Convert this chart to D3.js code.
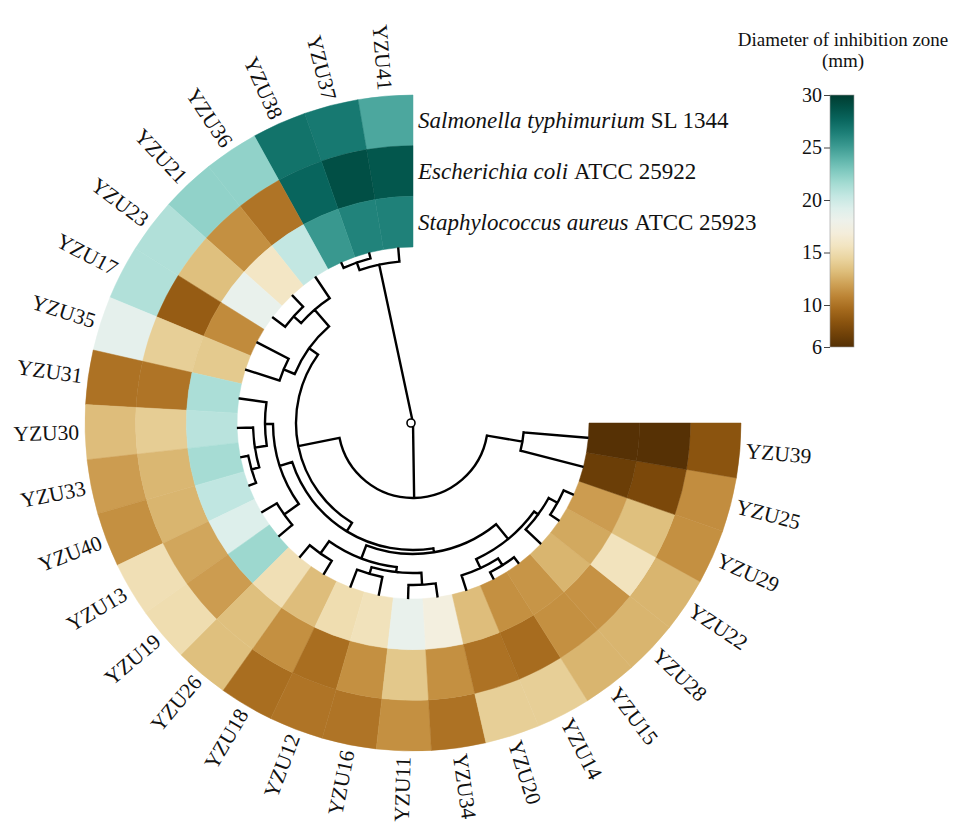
<!DOCTYPE html>
<html>
<head>
<meta charset="utf-8">
<script src="https://cdn.jsdelivr.net/npm/d3@7"></script>
<style>
  body { margin: 0; background: #fff; }
  text { font-family: "Liberation Serif", "Times New Roman", serif; fill: #111; }
</style>
</head>
<body>
<svg id="chart" width="960" height="824"></svg>
<script>
// strains in the order they sit on the ring (counter-clockwise from 12 o'clock)
const strains = ["YZU41", "YZU37", "YZU38", "YZU36", "YZU21", "YZU23", "YZU17", "YZU35",
  "YZU31", "YZU30", "YZU33", "YZU40", "YZU13", "YZU19", "YZU26", "YZU18", "YZU12",
  "YZU16", "YZU11", "YZU34", "YZU20", "YZU14", "YZU15", "YZU28", "YZU22", "YZU29",
  "YZU25", "YZU39"];

// inhibition zone diameters (mm)
const salmonella = [24.5, 26.7, 27.0, 22.2, 22.2, 21.1, 21.1, 18.7, 10.0, 13.2, 11.8, 11.3, 15.2, 15.0,
  13.3, 9.8, 10.1, 10.1, 11.3, 10.0, 14.1, 14.1, 12.8, 12.8, 12.8, 11.3, 11.2, 8.4];
const ecoli = [28.5, 28.9, 27.7, 10.1, 11.3, 13.3, 8.9, 14.1, 10.1, 14.0, 12.9, 12.8, 12.2, 11.8,
  13.3, 11.3, 9.8, 11.3, 13.7, 11.3, 10.0, 9.7, 11.3, 11.4, 15.5, 13.3, 7.7, 6.1];
const staph = [26.3, 26.2, 25.2, 20.4, 15.8, 18.4, 11.1, 13.8, 21.3, 20.8, 21.5, 20.5, 19.2, 21.8,
  15.2, 13.2, 15.0, 15.4, 18.4, 17.1, 13.2, 11.3, 11.5, 12.8, 12.3, 11.8, 7.0, 6.1];

const species = ["Salmonella typhimurium", "Escherichia coli", "Staphylococcus aureus"];
const strainIds = ["SL 1344", "ATCC 25922", "ATCC 25923"];
const legendTicks = [6, 10, 15, 20, 25, 30];

// clustering tree: [merge height, child, child]
const tree = [35,
  [2.6, "YZU41", [1.0, "YZU37", "YZU38"]],
  [20,
    [11.6,
      [9.4,
        [5, "YZU36", [3, "YZU21", "YZU23"]],
        [7, "YZU17", "YZU35"]],
      [9.6,
        [7,
          [5.4, "YZU31", [3, "YZU30", [1.4, "YZU33", "YZU40"]]],
          [3.4, "YZU13", "YZU19"]],
        [8.8,
          [6,
            [3, "YZU26", "YZU18"],
            [5, [3.6, "YZU12", "YZU16"], [2.6, "YZU11", "YZU34"]]],
          [5,
            [3, "YZU20", [1.4, "YZU14", "YZU15"]],
            [4, "YZU28", [2, "YZU22", "YZU29"]]]]]],
    [12.8, "YZU25", "YZU39"]]];

const cx = 413, cy = 423;
const innerR = 176, outerR = 328;
const rad = Math.PI / 180;

const svg = d3.select("#chart");
const g = svg.append("g").attr("transform", `translate(${cx},${cy})`);

// angle in degrees, counter-clockwise from north
const angle = d3.scaleBand().domain(strains).range([0, 270]);
const bw = angle.bandwidth();
const ring = d3.scaleBand().domain(["staph", "ecoli", "salmonella"]).range([innerR, outerR]);
const color = d3.scaleSequential(d3.interpolateBrBG).domain([6, 30]);

const pt = (deg, r) => [-r * Math.sin(deg * rad), -r * Math.cos(deg * rad)];

// Heatmap rings
const cells = [];
strains.forEach((s, i) => {
  cells.push({strain: s, row: "salmonella", v: salmonella[i]});
  cells.push({strain: s, row: "ecoli", v: ecoli[i]});
  cells.push({strain: s, row: "staph", v: staph[i]});
});

const arc = d3.arc()
  .innerRadius(d => ring(d.row))
  .outerRadius(d => ring(d.row) + ring.bandwidth())
  .startAngle(d => -(angle(d.strain) + bw) * rad)
  .endAngle(d => -angle(d.strain) * rad);

g.append("g").selectAll("path")
  .data(cells)
  .enter()
  .append("path")
  .attr("d", arc)
  .attr("fill", d => color(d.v))
  .attr("stroke", d => color(d.v))
  .attr("stroke-width", 0.5);

// Strain labels
g.append("g").selectAll("text")
  .data(strains)
  .enter()
  .append("text")
  .attr("transform", d => {
    const a = angle(d) + bw / 2;
    const [x, y] = pt(a, outerR + 6);
    const rot = -90 - a;
    return a < 180 ? `translate(${x},${y}) rotate(${rot + 180})` : `translate(${x},${y}) rotate(${rot})`;
  })
  .attr("text-anchor", d => (angle(d) + bw / 2) < 180 ? "end" : "start")
  .attr("dominant-baseline", "central")
  .style("font-size", "21.5px")
  .text(d => d);

// Row labels
const rowKeys = ["salmonella", "ecoli", "staph"];
const rowText = g.append("g").selectAll("text")
  .data(rowKeys)
  .enter()
  .append("text")
  .attr("x", 5)
  .attr("y", d => -(ring(d) + ring.bandwidth() / 2))
  .attr("dominant-baseline", "central")
  .style("font-size", "23px");
rowText.append("tspan").style("font-style", "italic").text((d, i) => species[i]);
rowText.append("tspan").attr("dx", 6).text((d, i) => strainIds[i]);

// Dendrogram
const root = d3.hierarchy(tree, d => Array.isArray(d) ? d.slice(1) : null);
const maxH = tree[0];
const radius = d3.scaleLinear().domain([maxH, 0]).range([0, innerR - 1]);
root.eachAfter(n => {
  if (n.children) {
    n.a = d3.mean(n.children, c => c.a);
    n.r = radius(n.data[0]);
  } else {
    n.a = angle(n.data) + bw / 2;
    n.r = radius(0);
  }
});

const links = d3.path();
root.each(n => {
  if (n.parent) {
    links.moveTo(...pt(n.a, n.parent.r));
    links.lineTo(...pt(n.a, n.r));
  }
  if (n.children && n.r > 0) {
    const a0 = d3.min(n.children, c => c.a);
    const a1 = d3.max(n.children, c => c.a);
    links.moveTo(...pt(a0, n.r));
    links.arc(0, 0, n.r, -Math.PI / 2 - a0 * rad, -Math.PI / 2 - a1 * rad, true);
  }
});

g.append("path")
  .attr("d", links.toString())
  .attr("fill", "none")
  .attr("stroke", "#000")
  .attr("stroke-width", 2.4)
  .attr("stroke-linecap", "square");

g.append("circle")
  .attr("cx", -2).attr("cy", 0).attr("r", 4)
  .attr("fill", "#fff")
  .attr("stroke", "#000")
  .attr("stroke-width", 1.6);

// Legend
const lx = 830, lw = 24;
const ly = d3.scaleLinear().domain([6, 30]).range([347, 95]);

const grad = svg.append("defs").append("linearGradient")
  .attr("id", "grad")
  .attr("x1", 0).attr("y1", 1).attr("x2", 0).attr("y2", 0);
grad.selectAll("stop")
  .data(d3.range(0, 1.0001, 0.05))
  .enter()
  .append("stop")
  .attr("offset", d => d)
  .attr("stop-color", d => color(6 + d * 24));

svg.append("rect")
  .attr("x", lx).attr("y", ly(30))
  .attr("width", lw).attr("height", ly(6) - ly(30))
  .attr("fill", "url(#grad)")
  .attr("stroke", "#999")
  .attr("stroke-width", 0.6);

const legAxis = svg.append("g")
  .attr("transform", `translate(${lx},0)`)
  .call(d3.axisLeft(ly).tickValues(legendTicks).tickSize(6).tickPadding(2));
legAxis.select(".domain").remove();
legAxis.selectAll("line").attr("stroke", "#444");
legAxis.selectAll("text")
  .style("font-family", "'Liberation Serif', 'Times New Roman', serif")
  .style("font-size", "20px")
  .attr("fill", "#111");

svg.append("text")
  .attr("x", 843).attr("y", 46)
  .attr("text-anchor", "middle")
  .style("font-size", "19px")
  .text("Diameter of inhibition zone");
svg.append("text")
  .attr("x", 843).attr("y", 67)
  .attr("text-anchor", "middle")
  .style("font-size", "19px")
  .text("(mm)");
</script>
</body>
</html>
